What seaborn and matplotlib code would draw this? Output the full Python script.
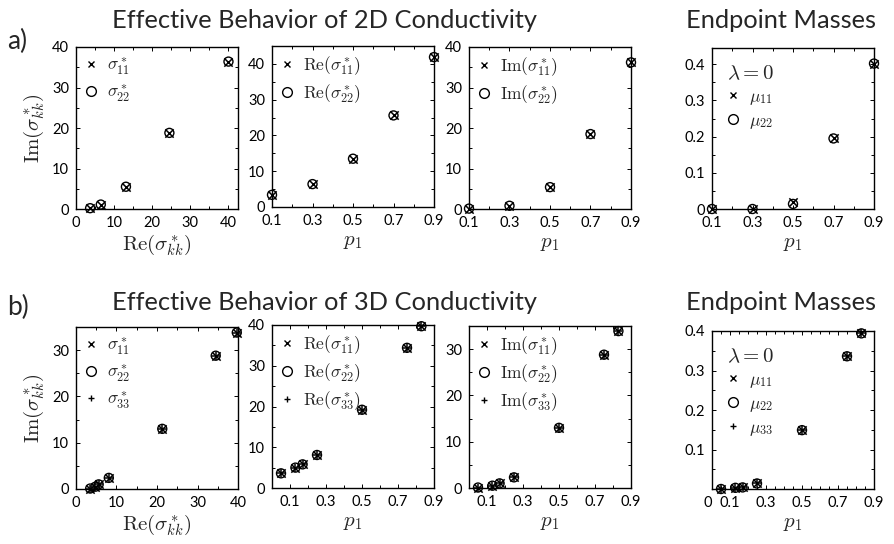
import matplotlib
matplotlib.use('Agg')
import matplotlib.pyplot as plt
import seaborn as sns
from matplotlib.lines import Line2D
from matplotlib.ticker import AutoMinorLocator, FuncFormatter

# setting the plot styles
sns.set_style('ticks')
plt.rcParams['font.family'] = ['Lato', 'DejaVu Sans']
plt.rcParams['mathtext.fontset'] = 'cm'
plt.rcParams['axes.linewidth'] = 1.0
plt.rcParams['axes.edgecolor'] = 'black'

# ---- data : 2D conductivity (row a) ----
p_2d = [0.1, 0.3, 0.5, 0.7, 0.9]
re_2d_left = [3.7, 6.5, 13.1, 24.5, 40.0]
im_2d_left = [0.2, 1.1, 5.5, 18.8, 36.4]
re_2d = [3.4, 6.4, 13.5, 25.6, 41.9]
im_2d = [0.1, 0.8, 5.4, 18.5, 36.2]
mu11_2d = [0.0, 0.0, 0.019, 0.195, 0.402]
mu22_2d = [0.0, 0.0, 0.014, 0.195, 0.402]

# ---- data : 3D conductivity (row b) ----
p_3d = [0.05, 0.13, 0.17, 0.25, 0.5, 0.75, 0.83]
re_3d_left = [3.5, 4.8, 5.6, 8.1, 21.3, 34.5, 39.7]
im_3d_left = [0.1, 0.5, 1.0, 2.4, 13.0, 28.8, 33.8]
re_3d = [3.6, 5.0, 5.8, 8.1, 19.2, 34.4, 39.7]
im_3d = [0.1, 0.5, 1.0, 2.3, 13.0, 28.8, 33.9]
mu_3d = [0.0, 0.003, 0.004, 0.014, 0.149, 0.336, 0.394]

# tick values
sig_ticks = [0, 10, 20, 30, 40]
p_ticks = [0.1, 0.3, 0.5, 0.7, 0.9]
mu_ticks = [0, 0.1, 0.2, 0.3, 0.4]

W, H = 895, 544


def px_axes(fig, left, top, right, bottom):
    '''Adds an axes given its box in pixel coordinates (origin top-left).'''
    return fig.add_axes([left / W, 1 - bottom / H, (right - left) / W, (bottom - top) / H])


def scatter_panel(ax, x, series, markers, labels, xlim, ylim, xticks, yticks,
                  legend_title=None, pad=0.3):
    '''
    Draws overlapping marker series (x, o, +) in MATLAB-like boxed axes.
    '''
    for y, m in zip(series, markers):
        if m == 'o':
            sns.scatterplot(x=x, y=y, marker='o', s=42, facecolor='none',
                            edgecolor='black', linewidth=1.0, ax=ax,
                            clip_on=False, zorder=3)
        else:
            sns.scatterplot(x=x, y=y, marker=m, s=36, color='black',
                            linewidth=1.1, ax=ax, clip_on=False, zorder=4)
    ax.set_xlim(*xlim)
    ax.set_ylim(*ylim)
    ax.set_xticks(xticks)
    ax.set_yticks(yticks)
    ax.xaxis.set_minor_locator(AutoMinorLocator(2))
    ax.yaxis.set_minor_locator(AutoMinorLocator(2))
    fmt = FuncFormatter(lambda v, _: f'{v:g}')
    ax.xaxis.set_major_formatter(fmt)
    ax.yaxis.set_major_formatter(fmt)
    ax.tick_params(which='both', direction='in', top=True, right=True,
                   width=0.7, colors='black', labelsize=10.5, pad=5)
    ax.tick_params(which='major', length=3)
    ax.tick_params(which='minor', length=2)
    for sp in ax.spines.values():
        sp.set_visible(True)
        sp.set_color('black')

    handles = []
    for m in markers:
        if m == 'o':
            handles.append(Line2D([], [], ls='', marker='o', ms=7, mfc='none',
                                  mec='black', mew=1.0))
        else:
            handles.append(Line2D([], [], ls='', marker=m, ms=5, color='black',
                                  mew=1.0))
    ax.legend(handles, labels, loc='upper left', frameon=False,
              fontsize=12.5, handlelength=0.7, handletextpad=0.6,
              labelspacing=0.3, borderaxespad=pad, borderpad=0.2,
              title=legend_title, title_fontsize=15, alignment='left')


fig = plt.figure(figsize=(W / 100, H / 100), dpi=100)

# ---- row a ----
ax = px_axes(fig, 76, 47, 238, 209)
scatter_panel(ax, re_2d_left, [im_2d_left, im_2d_left], ['x', 'o'],
              [r'$\sigma^*_{11}$', r'$\sigma^*_{22}$'],
              (0, 42.5), (0, 40), sig_ticks, sig_ticks)
ax.set_xlabel(r'$\mathrm{Re}(\sigma^*_{kk})$', fontsize=15, labelpad=2)
ax.set_ylabel(r'$\mathrm{Im}(\sigma^*_{kk})$', fontsize=15, labelpad=4)

ax = px_axes(fig, 272, 46, 434, 207)
scatter_panel(ax, p_2d, [re_2d, re_2d], ['x', 'o'],
              [r'$\mathrm{Re}(\sigma^*_{11})$', r'$\mathrm{Re}(\sigma^*_{22})$'],
              (0.1, 0.9), (0, 45), p_ticks, sig_ticks)
ax.set_xlabel(r'$p_1$', fontsize=15, labelpad=2)

ax = px_axes(fig, 469, 47, 631, 209)
scatter_panel(ax, p_2d, [im_2d, im_2d], ['x', 'o'],
              [r'$\mathrm{Im}(\sigma^*_{11})$', r'$\mathrm{Im}(\sigma^*_{22})$'],
              (0.1, 0.9), (0, 40), p_ticks, sig_ticks)
ax.set_xlabel(r'$p_1$', fontsize=15, labelpad=2)

ax = px_axes(fig, 712, 48, 874, 209)
scatter_panel(ax, p_2d, [mu11_2d, mu22_2d], ['x', 'o'],
              [r'$\mu_{11}$', r'$\mu_{22}$'],
              (0.1, 0.9), (0, 0.445), p_ticks, mu_ticks,
              legend_title=r'$\lambda = 0$', pad=0.65)
ax.set_xlabel(r'$p_1$', fontsize=15, labelpad=2)

# ---- row b ----
ax = px_axes(fig, 76, 327, 238, 489)
scatter_panel(ax, re_3d_left, [im_3d_left] * 3, ['x', 'o', '+'],
              [r'$\sigma^*_{11}$', r'$\sigma^*_{22}$', r'$\sigma^*_{33}$'],
              (0, 40), (0, 35), sig_ticks, sig_ticks[:4])
ax.set_xlabel(r'$\mathrm{Re}(\sigma^*_{kk})$', fontsize=15, labelpad=2)
ax.set_ylabel(r'$\mathrm{Im}(\sigma^*_{kk})$', fontsize=15, labelpad=4)

ax = px_axes(fig, 272, 325, 434, 488)
scatter_panel(ax, p_3d, [re_3d] * 3, ['x', 'o', '+'],
              [r'$\mathrm{Re}(\sigma^*_{11})$', r'$\mathrm{Re}(\sigma^*_{22})$',
               r'$\mathrm{Re}(\sigma^*_{33})$'],
              (0, 0.9), (0, 40), p_ticks, sig_ticks)
ax.set_xlabel(r'$p_1$', fontsize=15, labelpad=2)

ax = px_axes(fig, 469, 326, 631, 488)
scatter_panel(ax, p_3d, [im_3d] * 3, ['x', 'o', '+'],
              [r'$\mathrm{Im}(\sigma^*_{11})$', r'$\mathrm{Im}(\sigma^*_{22})$',
               r'$\mathrm{Im}(\sigma^*_{33})$'],
              (0, 0.9), (0, 35), p_ticks, sig_ticks[:4])
ax.set_xlabel(r'$p_1$', fontsize=15, labelpad=2)

ax = px_axes(fig, 712, 331, 874, 489)
scatter_panel(ax, p_3d, [mu_3d] * 3, ['x', 'o', '+'],
              [r'$\mu_{11}$', r'$\mu_{22}$', r'$\mu_{33}$'],
              (0, 0.9), (0, 0.4), [0] + p_ticks, mu_ticks[1:],
              legend_title=r'$\lambda = 0$', pad=0.65)
ax.set_xlabel(r'$p_1$', fontsize=15, labelpad=2)
# MATLAB placed the origin label a little apart from the axis
ax.get_xticklabels()[0].set_horizontalalignment('right')

# ---- titles and panel letters ----
fig.text(325 / W, 1 - 20 / H, 'Effective Behavior of 2D Conductivity',
         ha='center', va='center', fontsize=18.3)
fig.text(781 / W, 1 - 20 / H, 'Endpoint Masses', ha='center', va='center', fontsize=18.3)
fig.text(325 / W, 1 - 302 / H, 'Effective Behavior of 3D Conductivity',
         ha='center', va='center', fontsize=18.3)
fig.text(781 / W, 1 - 302 / H, 'Endpoint Masses', ha='center', va='center', fontsize=18.3)
fig.text(7 / W, 1 - 41 / H, 'a)', ha='left', va='center', fontsize=19)
fig.text(7 / W, 1 - 307 / H, 'b)', ha='left', va='center', fontsize=19)

plt.savefig('out.png', dpi=100)
